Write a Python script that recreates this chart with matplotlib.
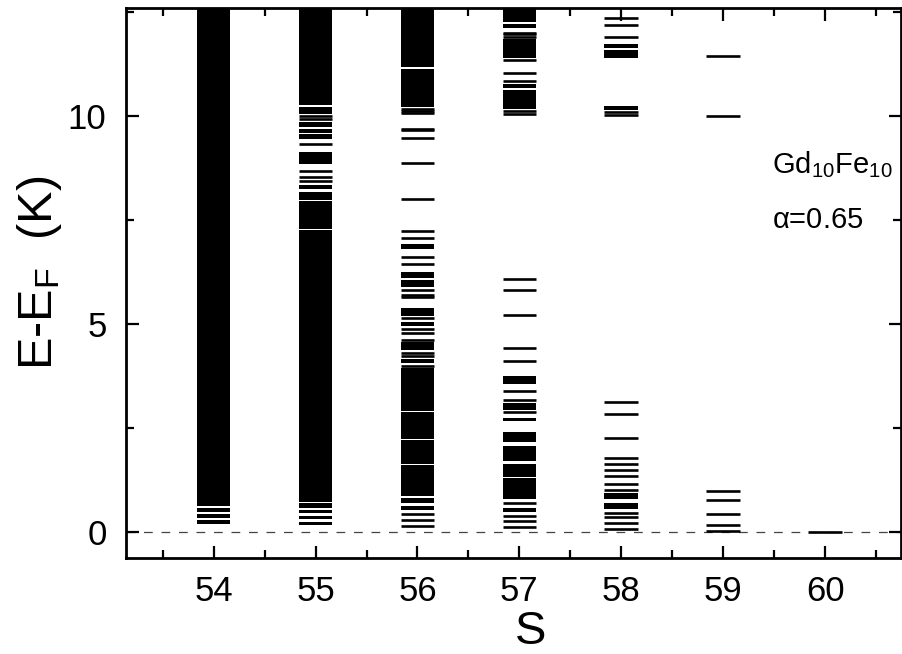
import matplotlib
matplotlib.use("Agg")
import matplotlib.pyplot as plt
from matplotlib.ticker import MultipleLocator

FONT = ["Liberation Sans", "DejaVu Sans"]
plt.rcParams["font.family"] = FONT
plt.rcParams["mathtext.fontset"] = "custom"
plt.rcParams["mathtext.rm"] = "Liberation Sans"
plt.rcParams["mathtext.it"] = "Liberation Sans"
plt.rcParams["mathtext.default"] = "regular"

# Spin values (columns)
spins = [54, 55, 56, 57, 58, 59, 60]

# Individual energy levels E - E_F (K) for each S
levels = {
    54: [],
    55: [10.00, 9.94, 9.34, 8.69, 8.54, 8.44],
    56: [10.18, 10.13, 10.08, 9.70, 9.66, 9.47, 8.87, 8.01, 7.25, 7.06, 6.62, 6.44,
         5.81, 5.69, 5.65, 5.16, 4.88, 4.78, 4.63, 4.31, 4.24, 4.00,
         0.44, 0.30, 0.16],
    57: [12.01, 11.97, 11.91, 11.34, 11.03, 10.85, 10.12, 10.06,
         6.08, 5.83, 5.22, 4.43, 4.11, 3.39, 3.18, 2.88,
         0.70, 0.40, 0.26, 0.12],
    58: [12.37, 12.20, 11.91, 10.11, 10.02,
         3.12, 2.85, 2.27, 1.78, 1.65, 1.50, 1.35, 1.17, 1.02,
         0.47, 0.37, 0.22, 0.08],
    59: [11.45, 10.00, 0.99, 0.78, 0.43, 0.18, 0.04],
    60: [0.0],
}

# Quasi-continuous bands of levels (low, high) for each S
bands = {
    54: [(0.63, 12.70), (0.49, 0.58), (0.35, 0.43), (0.20, 0.30)],
    55: [(10.26, 12.70), (10.06, 10.21), (9.74, 9.87), (9.59, 9.69), (9.45, 9.57),
         (8.86, 9.13), (8.24, 8.34), (7.99, 8.17), (7.29, 7.96),
         (0.72, 7.27), (0.58, 0.70), (0.45, 0.54), (0.31, 0.40), (0.17, 0.25)],
    56: [(11.18, 12.70), (10.22, 11.14), (6.80, 6.92), (6.11, 6.25), (5.89, 6.07),
         (5.20, 5.40), (4.96, 5.05), (4.37, 4.58), (4.07, 4.16),
         (2.905, 3.95), (2.675, 2.895), (2.235, 2.665), (1.635, 2.225), (0.87, 1.625),
         (0.69, 0.82), (0.54, 0.64)],
    57: [(12.27, 12.70), (12.13, 12.22), (11.40, 11.85), (10.68, 10.77), (10.17, 10.62),
         (3.57, 3.75), (2.94, 3.10), (2.67, 2.75), (2.17, 2.40), (1.70, 2.07),
         (1.32, 1.64), (0.79, 1.30), (0.49, 0.59)],
    58: [(11.65, 11.73), (11.41, 11.58), (10.16, 10.25), (0.80, 0.95), (0.55, 0.70)],
    59: [],
    60: [],
}

x_ticks = [54, 55, 56, 57, 58, 59, 60]
y_ticks = [0, 5, 10]

fig = plt.figure(figsize=(9.02, 6.54), dpi=100)
ax = fig.add_axes([126 / 902, 1 - 558 / 654, (900.5 - 126) / 902, (558 - 8) / 654])

half = 0.165
ax.axhline(0, color="#444444", lw=0.9, ls=(0, (7, 7)), zorder=1)
for s in spins:
    for lo, hi in bands[s]:
        ax.bar(s, hi - lo, bottom=lo, width=2 * half, color="black",
               linewidth=0, zorder=2)
    if levels[s]:
        ax.hlines(levels[s], s - half, s + half, colors="black", lw=1.9, zorder=3)

ax.set_xlim(53.14, 60.74)
ax.set_ylim(-0.62, 12.6)
ax.set_xticks(x_ticks)
ax.set_yticks(y_ticks)
ax.xaxis.set_minor_locator(MultipleLocator(0.5))
ax.yaxis.set_minor_locator(MultipleLocator(2.5))
ax.tick_params(which="both", direction="in", top=True, right=True, width=1.6,
               labelsize=25, color="black")
ax.tick_params(which="major", length=9)
ax.tick_params(which="minor", length=6)
ax.tick_params(axis="y", pad=14)
ax.tick_params(axis="x", pad=12)
for sp in ax.spines.values():
    sp.set_linewidth(2.0)

# Axis titles placed as figure texts
fig.text(531 / 902, 1 - 644 / 654, "S", fontsize=34, ha="center", va="baseline")
fig.text(52 / 902, 1 - 273 / 654, r"E-E$_F$  (K)", fontsize=35, rotation=90,
         rotation_mode="anchor", ha="center", va="baseline")

fig.text(772 / 902, 1 - 173 / 654, r"Gd$_{10}$Fe$_{10}$", fontsize=21,
         ha="left", va="baseline")
fig.text(772 / 902, 1 - 228 / 654, r"$\alpha$=0.65", fontsize=21,
         ha="left", va="baseline")

fig.savefig("out.png", dpi=100)
